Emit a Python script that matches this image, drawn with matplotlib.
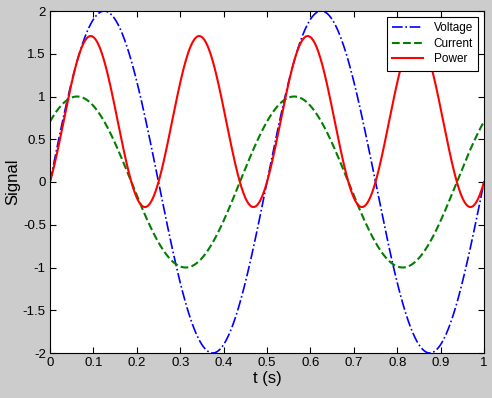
import numpy as np
import matplotlib.pyplot as plt

plt.rcParams["font.family"] = ["Liberation Sans", "DejaVu Sans"]

# signal parameters
freq = 2.0              # Hz, period 0.5 s
volt_amp = 2.0
curr_amp = 1.0
curr_phase = np.pi / 4  # current leads voltage by 1/8 period
t_end = 1.0

t = np.linspace(0, t_end, 1000)
voltage = volt_amp * np.sin(2 * np.pi * freq * t)
current = curr_amp * np.sin(2 * np.pi * freq * t + curr_phase)
power = voltage * current

xticks = [0, 0.1, 0.2, 0.3, 0.4, 0.5, 0.6, 0.7, 0.8, 0.9, 1]
xtick_labels = ["0", "0.1", "0.2", "0.3", "0.4", "0.5", "0.6", "0.7", "0.8", "0.9", "1"]
yticks = [-2, -1.5, -1, -0.5, 0, 0.5, 1, 1.5, 2]
ytick_labels = ["-2", "-1.5", "-1", "-0.5", "0", "0.5", "1", "1.5", "2"]

fig = plt.figure(figsize=(4.92, 3.98), dpi=100, facecolor="#cccccc")
ax = fig.add_axes([50 / 492, 1 - 353 / 398, 434 / 492, 342 / 398])

ax.plot(t, voltage, color="#0000ff", linestyle="-.", linewidth=1.2, label="Voltage")
ax.plot(t, current, color="#007f00", linestyle="--", linewidth=1.5, label="Current")
ax.plot(t, power, color="#ff0000", linestyle="-", linewidth=1.5, label="Power")

ax.set_xlim(0, 1)
ax.set_ylim(-2, 2)
ax.set_xticks(xticks)
ax.set_xticklabels(xtick_labels)
ax.set_yticks(yticks)
ax.set_yticklabels(ytick_labels)
ax.tick_params(direction="in", top=True, right=True, labelsize=9.5, length=4, pad=3)
for s in ax.spines.values():
    s.set_linewidth(0.8)

ax.set_xlabel("t (s)", fontsize=12, labelpad=1)
ax.set_ylabel("Signal", fontsize=12, labelpad=2)

leg = ax.legend(loc="upper right", fontsize=8.5, frameon=True, fancybox=False,
                edgecolor="black", framealpha=1, borderpad=0.45, handlelength=2.6,
                handletextpad=0.9, labelspacing=0.3, borderaxespad=0.5)
leg.get_frame().set_linewidth(0.8)

fig.savefig("out.png", dpi=100, facecolor=fig.get_facecolor())
